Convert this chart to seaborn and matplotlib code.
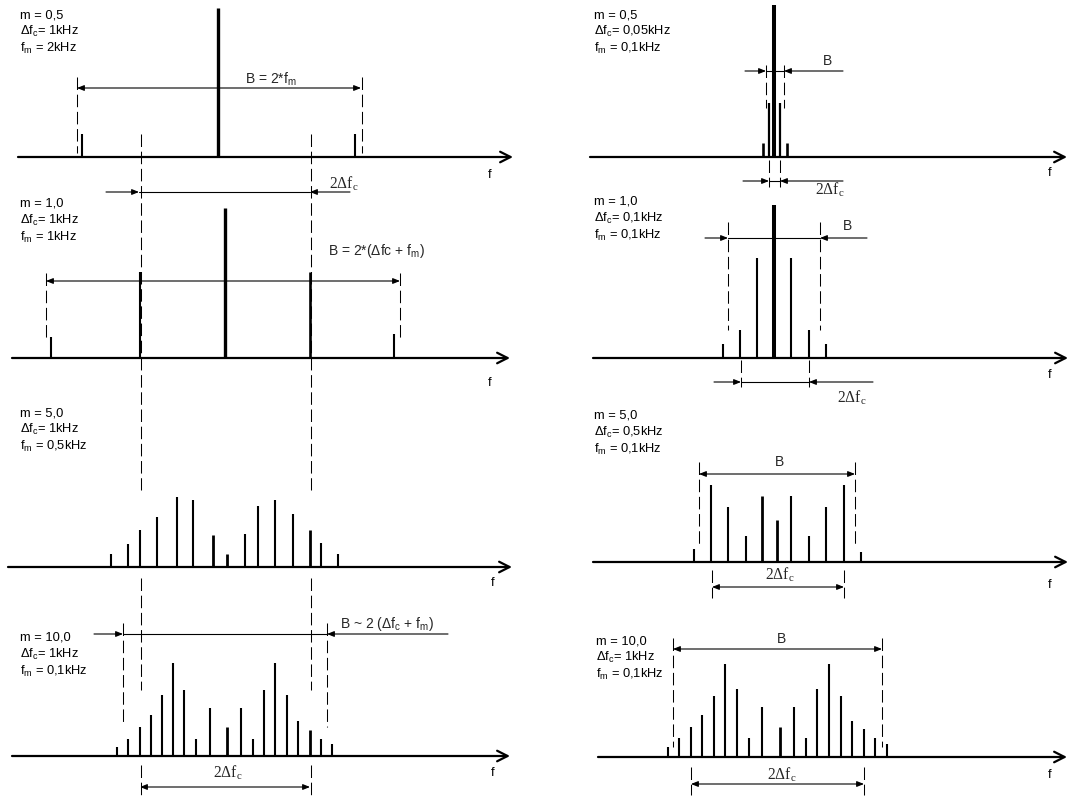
import matplotlib
matplotlib.use("Agg")
import matplotlib.pyplot as plt
import seaborn as sns

sns.set_theme(style="white")
plt.rcParams["font.family"] = ["Liberation Sans", "DejaVu Sans"]
plt.rcParams["mathtext.default"] = "regular"

# ---------------- data (diagram units: 1 unit = 1 px) ----------------
# spectral line positions along f and their amplitudes
L1_pos = [82, 218, 355]
L1_amp = [23, 149, 23]
L2_pos = [51, 140, 225, 310, 394]
L2_amp = [21, 86, 150, 86, 24]
L3_pos = [111, 128, 140, 157, 177, 193, 213, 227, 245, 258, 275, 293, 310, 321, 338]
L3_amp = [13, 23, 37, 50, 70, 67, 32, 13, 33, 61, 67, 53, 37, 24, 13]
L4_pos = [117, 128, 140, 151, 162, 173, 184, 196, 210, 227, 241, 253, 264, 275,
          287, 298, 310, 321, 332]
L4_amp = [9, 17, 29, 41, 61, 93, 66, 17, 48, 29, 48, 17, 66, 93, 61, 35, 26, 17, 12]
R1_pos = [763, 769, 774, 780, 787]
R1_amp = [14, 54, 152, 54, 14]
R2_pos = [723, 740, 757, 774, 791, 809, 826]
R2_amp = [14, 28, 100, 153, 100, 28, 14]
R3_pos = [694, 711, 728, 746, 762, 777, 791, 809, 826, 844, 861]
R3_amp = [13, 77, 55, 26, 66, 42, 66, 26, 55, 77, 10]
R4_pos = [668, 679, 691, 702, 714, 725, 737, 749, 762, 780, 794, 806, 817, 829,
          841, 852, 864, 875, 887]
R4_amp = [10, 19, 30, 42, 61, 93, 68, 19, 50, 30, 50, 19, 68, 93, 61, 36, 28, 19, 13]

# parameter labels
L1_text = ["m = 0,5", "Δf$_c$= 1kHz", "f$_m$ = 2kHz"]
L2_text = ["m = 1,0", "Δf$_c$= 1kHz", "f$_m$ = 1kHz"]
L3_text = ["m = 5,0", "Δf$_c$= 1kHz", "f$_m$ = 0,5kHz"]
L4_text = ["m = 10,0", "Δf$_c$= 1kHz", "f$_m$ = 0,1kHz"]
R1_text = ["m = 0,5", "Δf$_c$= 0,05kHz", "f$_m$ = 0,1kHz"]
R2_text = ["m = 1,0", "Δf$_c$= 0,1kHz", "f$_m$ = 0,1kHz"]
R3_text = ["m = 5,0", "Δf$_c$= 0,5kHz", "f$_m$ = 0,1kHz"]
R4_text = ["m = 10,0", "Δf$_c$= 1kHz", "f$_m$ = 0,1kHz"]

# ---------------- layout / style ----------------
panels = [
    dict(base=157, x0=18, x1=513, pos=L1_pos, amp=L1_amp, thick={1: 2.4},
         txt=L1_text, tx=20, ty=15, f=(490, 175)),
    dict(base=358, x0=12, x1=510, pos=L2_pos, amp=L2_amp, thick={2: 2.4, 3: 1.9},
         txt=L2_text, tx=20, ty=204, f=(490, 383)),
    dict(base=567, x0=8, x1=512, pos=L3_pos, amp=L3_amp, thick={6: 2.0, 7: 2.0, 12: 2.0},
         txt=L3_text, tx=20, ty=413, f=(493, 583)),
    dict(base=756, x0=12, x1=510, pos=L4_pos, amp=L4_amp, thick={9: 2.0, 16: 2.0},
         txt=L4_text, tx=20, ty=638, f=(493, 773)),
    dict(base=157, x0=590, x1=1067, pos=R1_pos, amp=R1_amp,
         thick={0: 1.9, 1: 1.6, 2: 2.9, 3: 1.6, 4: 1.9},
         txt=R1_text, tx=594, ty=15, f=(1050, 173)),
    dict(base=358, x0=593, x1=1068, pos=R2_pos, amp=R2_amp, thick={3: 2.9},
         txt=R2_text, tx=594, ty=202, f=(1050, 375)),
    dict(base=562, x0=593, x1=1068, pos=R3_pos, amp=R3_amp, thick={4: 2.0, 5: 2.0},
         txt=R3_text, tx=594, ty=416, f=(1050, 585)),
    dict(base=757, x0=598, x1=1067, pos=R4_pos, amp=R4_amp, thick={9: 2.0},
         txt=R4_text, tx=596, ty=641, f=(1050, 775)),
]

fig = plt.figure(figsize=(10.72, 7.96), dpi=100)
ax = fig.add_axes([0, 0, 1, 1])
ax.set_xlim(0, 1072)
ax.set_ylim(796, 0)
ax.axis("off")

K = "black"
SANS = ["Liberation Sans", "DejaVu Sans"]
SERIF = ["Liberation Serif", "DejaVu Serif"]
DASH = (0, (12, 4.5))
LFS = 9.3
LINE = 16.5

for p in panels:
    b = p["base"]
    ax.annotate("", xy=(p["x1"], b), xytext=(p["x0"], b),
                arrowprops=dict(arrowstyle="->,head_length=0.75,head_width=0.38",
                                mutation_scale=10, lw=1.6, color=K,
                                shrinkA=0, shrinkB=0))
    widths = [p["thick"].get(i, 1.5) for i in range(len(p["pos"]))]
    tops = [b - a for a in p["amp"]]
    ax.vlines(p["pos"], tops, b, colors=K, linewidths=widths, capstyle="butt", zorder=3)
    for i, t in enumerate(p["txt"]):
        ax.text(p["tx"], p["ty"] + i * LINE, t, ha="left", va="center", fontsize=LFS,
                family=SANS, color=K)
    ax.text(p["f"][0], p["f"][1], "f", ha="center", va="center", fontsize=LFS,
            family=SANS, color=K)

# dashed extension lines: (x, y0, y1)
dashed = [
    (77, 77, 153), (362, 77, 153),
    (46, 273, 338), (400, 273, 338),
    (123, 623, 723), (327, 623, 727),
    (766, 65, 108), (784, 65, 108), (769, 160, 187), (780, 160, 187),
    (728, 222, 330), (820, 222, 330), (741, 360, 387), (809, 360, 387),
    (699, 462, 547), (855, 462, 547), (712, 570, 598), (844, 570, 598),
    (673, 638, 747), (882, 638, 747), (691, 767, 795), (864, 767, 795),
]
for x in (141, 311):
    for y0, y1 in [(134, 490), (578, 690), (765, 795)]:
        dashed.append((x, y0, y1))
for x, y0, y1 in dashed:
    ax.plot([x, x], [y0, y1], color=K, lw=0.75, linestyle=DASH, zorder=2)

SMALL = dict(arrowstyle="-|>,head_length=0.7,head_width=0.28", mutation_scale=6,
             lw=0.8, color=K, shrinkA=0, shrinkB=0)


def dim_inside(y, xa, xb):
    ax.annotate("", xy=(xb, y), xytext=(xa, y),
                arrowprops=dict(SMALL, arrowstyle="<|-|>,head_length=0.7,head_width=0.28"))


def dim_outside(y, xl, xa, xb, xr):
    ax.plot([xa, xb], [y, y], color=K, lw=0.8)
    ax.annotate("", xy=(xa, y), xytext=(xl, y), arrowprops=SMALL)
    ax.annotate("", xy=(xb, y), xytext=(xr, y), arrowprops=SMALL)


dim_inside(88, 77, 361)
dim_outside(192, 106, 139, 310, 350)
dim_inside(281, 46, 400)
dim_outside(634, 94, 123, 327, 448)
dim_inside(787, 140, 310)
dim_outside(71, 745, 766, 784, 843)
dim_outside(181, 743, 769, 780, 843)
dim_outside(238, 705, 728, 820, 867)
dim_outside(382, 714, 741, 809, 873)
dim_inside(474, 699, 855)
dim_inside(587, 712, 844)
dim_inside(649, 673, 882)
dim_inside(784, 691, 864)

fs = 10
ax.text(271, 79, "B = 2*f$_m$", ha="center", va="center", fontsize=fs, family=SANS)
ax.text(328, 251, "B = 2*(Δfc + f$_m$)", ha="left", va="center", fontsize=fs, family=SANS)
ax.text(340, 624, "B ~ 2 (Δf$_c$ + f$_m$)", ha="left", va="center", fontsize=fs, family=SANS)
for x, y in [(828, 61), (848, 226), (779, 462), (782, 639)]:
    ax.text(x, y, "B", ha="center", va="center", fontsize=fs, family=SANS)
for x, y in [(344, 184), (228, 773), (830, 190), (852, 398), (780, 575), (782, 775)]:
    ax.text(x, y, "2Δf$_c$", ha="center", va="center", fontsize=11.2, family=SERIF)

fig.savefig("out.png", dpi=100, facecolor="white")
